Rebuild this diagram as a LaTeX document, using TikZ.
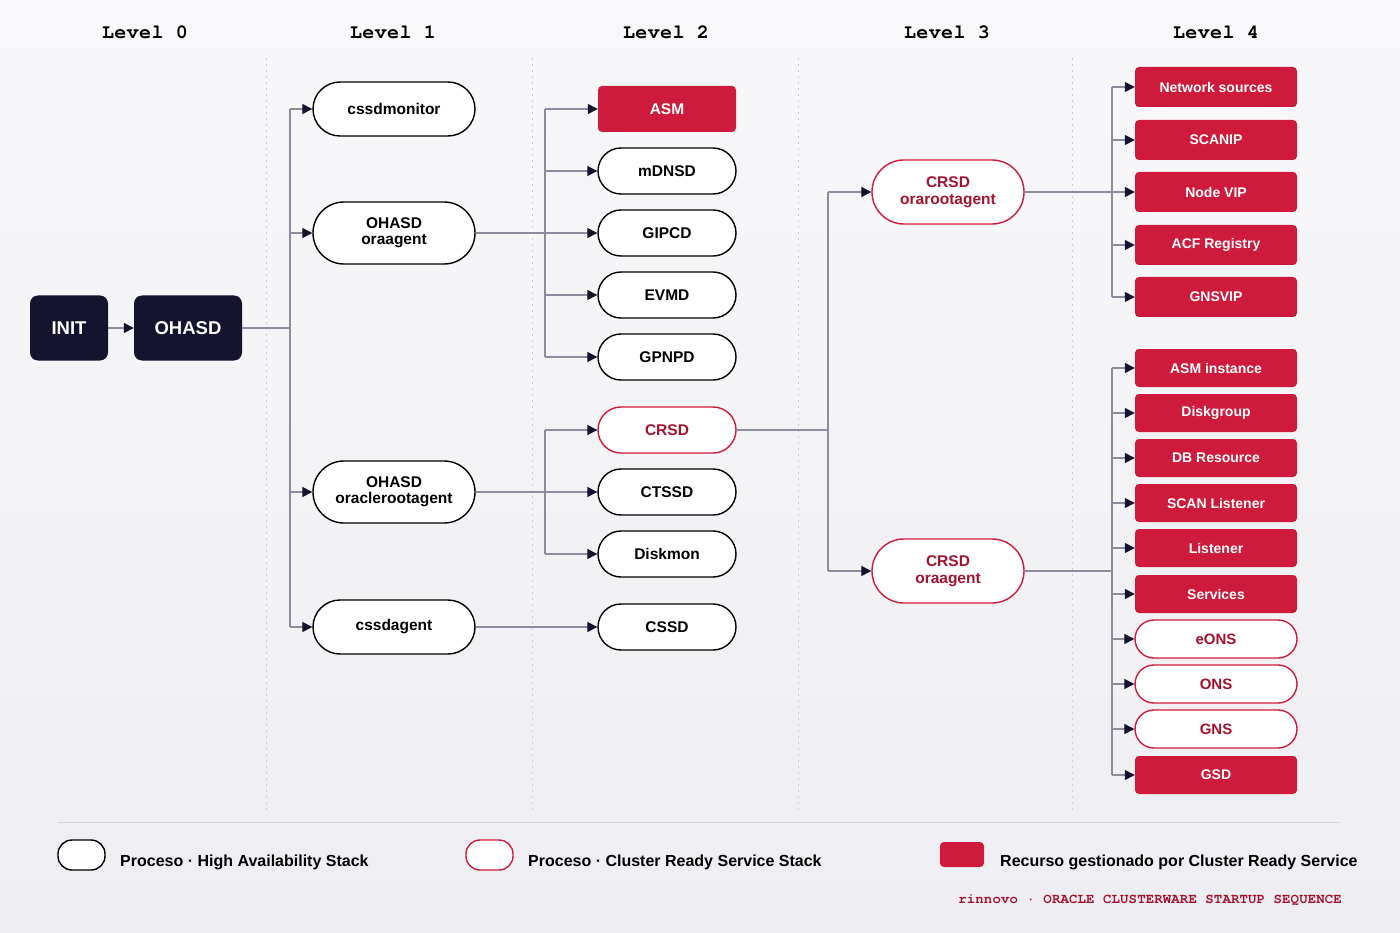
\documentclass[tikz,border=0pt]{standalone}
\usepackage{fontspec}
\setmainfont{Liberation Sans}
\newfontfamily\hdrfont[Extension=.otf, UprightFont=*-regular, BoldFont=*-bold, LetterSpace=2]{texgyrecursor}
\newfontfamily\footfont[Extension=.otf, UprightFont=*-regular, BoldFont=*-bold, LetterSpace=1]{texgyrecursor}
\usetikzlibrary{arrows.meta}
\definecolor{crsred}{HTML}{CF1B3B}
\definecolor{crsdark}{HTML}{A5122E}
\definecolor{navy}{HTML}{15142E}
\definecolor{wire}{HTML}{8C8C9C}
\definecolor{sepc}{HTML}{CDCDD5}
\definecolor{bgA}{HTML}{F8F8FA}
\definecolor{bgB}{HTML}{EEEEF2}
\begin{document}
\begin{tikzpicture}[x=1pt,y=-1pt,
  base/.style={inner sep=0pt, align=center, font=\bfseries\fontsize{15.5}{16}\selectfont},
  darknode/.style={base, fill=navy, text=white, rounded corners=8pt, minimum height=65pt, font=\bfseries\fontsize{18.5}{20}\selectfont},
  hanode/.style={base, draw=black, line width=1.4pt, fill=white, text=black},
  crsnode/.style={base, draw=crsred, line width=1.4pt, fill=white, text=crsdark},
  resnode/.style={base, fill=crsred, text=white, rounded corners=4pt},
  lone/.style={hanode, minimum width=162pt, minimum height=54pt, rounded corners=27pt},
  ltwo/.style={lone, minimum height=62pt, rounded corners=31pt},
  lsz/.style={minimum width=138pt, minimum height=46pt},
  lha/.style={hanode, lsz, rounded corners=23pt},
  lcrs/.style={crsnode, lsz, rounded corners=23pt},
  lres/.style={resnode, lsz},
  lthree/.style={crsnode, minimum width=152pt, minimum height=64pt, rounded corners=32pt, font=\bfseries\fontsize{15.5}{17}\selectfont},
  rfa/.style={resnode, minimum width=162pt, minimum height=40pt, font=\bfseries\fontsize{14}{16}\selectfont},
  rfb/.style={resnode, minimum width=162pt, minimum height=38pt, font=\bfseries\fontsize{14}{16}\selectfont},
  rpb/.style={crsnode, minimum width=162pt, minimum height=38pt, rounded corners=19pt, font=\bfseries\fontsize{15}{16}\selectfont},
  wireline/.style={draw=wire, line width=1.3pt},
  arr/.style={wireline, -{Triangle[length=10pt,width=10pt,color=navy]}},
  hdr/.style={font=\hdrfont\bfseries\fontsize{20}{22}\selectfont, text=black},
  sepline/.style={draw=sepc, line width=1pt, dash pattern=on 2pt off 4pt},
  legtext/.style={anchor=west, inner sep=0pt, font=\bfseries\fontsize{16}{18}\selectfont, text=black}
]
\useasboundingbox (0,0) rectangle (1400,933);
\shade[top color=bgA, bottom color=bgB] (0,0) rectangle (1400,933);

% headers
\node[hdr] (h0) at (145,32) {Level 0};
\node[hdr] (h1) at (393,32) {Level 1};
\node[hdr] (h2) at (666,32) {Level 2};
\node[hdr] (h3) at (947,32) {Level 3};
\node[hdr] (h4) at (1216,32) {Level 4};

% separators
\foreach \sx in {266,532,798,1072} \draw[sepline] (\sx,58) -- (\sx,812);
\draw[draw=sepc!80, line width=1pt] (58,822) -- (1340,822);

% level 0
\node[darknode, minimum width=78pt] (init) at (69,328) {INIT};
\node[darknode, minimum width=108pt] (ohasd) at (188,328) {OHASD};

% level 1
\node[lone] (cssdmon) at (394,109) {cssdmonitor};
\node[ltwo] (oraag) at (394,233) {OHASD\\oraagent};
\node[ltwo] (orart) at (394,492) {OHASD\\oraclerootagent};
\node[lone] (cssdag) at (394,627) {cssdagent};

% level 2
\node[lres] (asm) at (667,109) {ASM};
\node[lha] (mdnsd) at (667,171) {mDNSD};
\node[lha] (gipcd) at (667,233) {GIPCD};
\node[lha] (evmd) at (667,295) {EVMD};
\node[lha] (gpnpd) at (667,357) {GPNPD};
\node[lcrs] (crsd) at (667,430) {CRSD};
\node[lha] (ctssd) at (667,492) {CTSSD};
\node[lha] (diskmon) at (667,554) {Diskmon};
\node[lha] (cssd) at (667,627) {CSSD};

% level 3
\node[lthree] (crsroot) at (948,192) {CRSD\\orarootagent};
\node[lthree] (crsora) at (948,571) {CRSD\\oraagent};

% level 4 group 1
\node[rfa] (netsrc) at (1216,87) {Network sources};
\node[rfa] (scanip) at (1216,140) {SCANIP};
\node[rfa] (nodevip) at (1216,192) {Node VIP};
\node[rfa] (acf) at (1216,245) {ACF Registry};
\node[rfa] (gnsvip) at (1216,297) {GNSVIP};

% level 4 group 2
\node[rfb] (asminst) at (1216,368) {ASM instance};
\node[rfb] (diskgrp) at (1216,413) {Diskgroup};
\node[rfb] (dbres) at (1216,458) {DB Resource};
\node[rfb] (scanlis) at (1216,503) {SCAN Listener};
\node[rfb] (listener) at (1216,548) {Listener};
\node[rfb] (services) at (1216,594) {Services};
\node[rpb] (eons) at (1216,639) {eONS};
\node[rpb] (ons) at (1216,684) {ONS};
\node[rpb] (gns) at (1216,729) {GNS};
\node[rfb] (gsd) at (1216,775) {GSD};

% trunk coordinates
\coordinate (ta) at (290,328);
\coordinate (tb) at (545,233);
\coordinate (tc) at (545,492);
\coordinate (td) at (828,430);
\coordinate (te) at (1112,192);
\coordinate (tf) at (1112,571);

% connectors level 0 -> 1
\draw[arr] (init) -- (ohasd);
\draw[wireline] (ohasd.east) -- (ta);
\draw[wireline] (ta |- cssdmon) -- (ta |- cssdag);
\foreach \n in {cssdmon,oraag,orart,cssdag} \draw[arr] (ta |- \n.west) -- (\n.west);

% level 1 -> 2
\draw[arr] (oraag.east) -- (gipcd.west);
\draw[wireline] (tb |- asm) -- (tb |- gpnpd);
\foreach \n in {asm,mdnsd,evmd,gpnpd} \draw[arr] (tb |- \n.west) -- (\n.west);
\draw[arr] (orart.east) -- (ctssd.west);
\draw[wireline] (tc |- crsd) -- (tc |- diskmon);
\foreach \n in {crsd,diskmon} \draw[arr] (tc |- \n.west) -- (\n.west);
\draw[arr] (cssdag.east) -- (cssd.west);

% level 2 -> 3
\draw[wireline] (crsd.east) -- (td);
\draw[wireline] (td |- crsroot) -- (td |- crsora);
\foreach \n in {crsroot,crsora} \draw[arr] (td |- \n.west) -- (\n.west);

% level 3 -> 4
\draw[arr] (crsroot.east) -- (nodevip.west);
\draw[wireline] (te |- netsrc) -- (te |- gnsvip);
\foreach \n in {netsrc,scanip,acf,gnsvip} \draw[arr] (te |- \n.west) -- (\n.west);
\draw[wireline] (crsora.east) -- (tf);
\draw[wireline] (tf |- asminst) -- (tf |- gsd);
\foreach \n in {asminst,diskgrp,dbres,scanlis,listener,services,eons,ons,gns,gsd} \draw[arr] (tf |- \n.west) -- (\n.west);

% legend
\node[hanode, minimum width=47pt, minimum height=30pt, rounded corners=14pt] (lgha) at (81.5,855) {};
\node[legtext] (lghat) at (120,862) {Proceso · High Availability Stack};
\node[crsnode, minimum width=47pt, minimum height=30pt, rounded corners=14pt] (lgcrs) at (489.5,855) {};
\node[legtext] (lgcrst) at (528,862) {Proceso · Cluster Ready Service Stack};
\node[resnode, minimum width=44pt, minimum height=25pt] (lgres) at (962,854.5) {};
\node[legtext] (lgrest) at (1000,862) {Recurso gestionado por Cluster Ready Service};

% footer
\node[anchor=east, inner sep=0pt, text=crsdark, font=\footfont\bfseries\fontsize{14}{16}\selectfont] (foot) at (1342,900) {rinnovo · ORACLE CLUSTERWARE STARTUP SEQUENCE};
\end{tikzpicture}
\end{document}
